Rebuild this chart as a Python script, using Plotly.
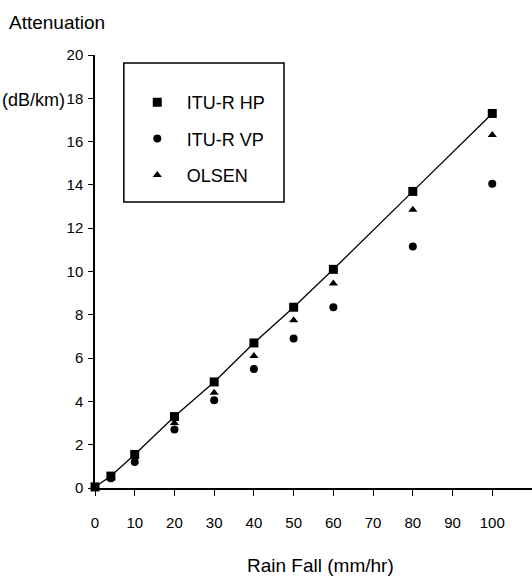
import plotly.graph_objects as go

rain = [0, 4, 10, 20, 30, 40, 50, 60, 80, 100]
itu_hp = [0.05, 0.55, 1.55, 3.3, 4.9, 6.7, 8.35, 10.1, 13.7, 17.3]
itu_vp = [0.05, 0.45, 1.2, 2.7, 4.05, 5.5, 6.9, 8.35, 11.15, 14.05]
olsen = [0.05, 0.5, 1.45, 3.0, 4.4, 6.1, 7.75, 9.45, 12.85, 16.3]

x_ticks = list(range(0, 101, 10))
y_ticks = list(range(0, 21, 2))

FONT = "Liberation Sans Narrow, Arial Narrow, Liberation Sans, Arial, sans-serif"

fig = go.Figure()
fig.add_trace(go.Scatter(x=rain, y=itu_hp, mode="lines", line=dict(color="black", width=1.3),
                         showlegend=False, cliponaxis=False, hoverinfo="skip"))
fig.add_trace(go.Scatter(x=rain, y=itu_hp, mode="markers", name="ITU-R HP",
                         marker=dict(symbol="square", size=9, color="black"),
                         cliponaxis=False, legendgroup="a"))
fig.add_trace(go.Scatter(x=rain, y=itu_vp, mode="markers", name="ITU-R VP",
                         marker=dict(symbol="circle", size=8, color="black"),
                         cliponaxis=False, legendgroup="b"))
fig.add_trace(go.Scatter(x=rain, y=olsen, mode="markers", name="OLSEN",
                         marker=dict(symbol="triangle-up", size=8, color="black"),
                         cliponaxis=False, legendgroup="c"))

fig.update_layout(
    width=532, height=583,
    margin=dict(l=95, r=0, t=55, b=95),
    paper_bgcolor="white", plot_bgcolor="white",
    font=dict(family=FONT, size=15, color="black"),
    showlegend=True,
    legend=dict(x=0.075, y=0.933, xanchor="left", yanchor="top",
                borderwidth=0, bgcolor="rgba(0,0,0,0)",
                font=dict(family=FONT, size=18), tracegroupgap=10,
                itemwidth=49),
    xaxis=dict(range=[0, 110], tickvals=x_ticks, ticks="outside", ticklen=6,
               showline=True, linecolor="black", linewidth=1.5, showgrid=False,
               zeroline=False, tickcolor="black", ticklabelstandoff=14,
               tickfont=dict(family=FONT, size=15)),
    yaxis=dict(range=[0, 20], tickvals=y_ticks, ticks="outside", ticklen=5,
               showline=True, linecolor="black", linewidth=1.5, showgrid=False,
               zeroline=False, tickcolor="black", ticklabelstandoff=2,
               tickfont=dict(family=FONT, size=15)),
    shapes=[dict(type="rect", xref="paper", yref="paper",
                 x0=0.066, x1=0.4325, y0=0.6605, y1=0.9815,
                 line=dict(color="black", width=1.5), fillcolor="rgba(0,0,0,0)")],
    annotations=[
        dict(text="Attenuation", xref="paper", yref="paper", x=-0.087, y=1.076,
             xanchor="center", yanchor="middle", showarrow=False,
             font=dict(family=FONT, size=19)),
        dict(text="(dB/km)", xref="paper", yref="paper", x=-0.14, y=0.896,
             xanchor="center", yanchor="middle", showarrow=False,
             font=dict(family=FONT, size=18)),
        dict(text="Rain Fall (mm/hr)", xref="paper", yref="paper", x=0.517, y=-0.178,
             xanchor="center", yanchor="middle", showarrow=False,
             font=dict(family=FONT, size=19)),
    ],
)

fig.write_html("out.html", config={"displayModeBar": False},
               post_script="document.body.style.margin='0px';document.body.style.overflow='hidden';")
